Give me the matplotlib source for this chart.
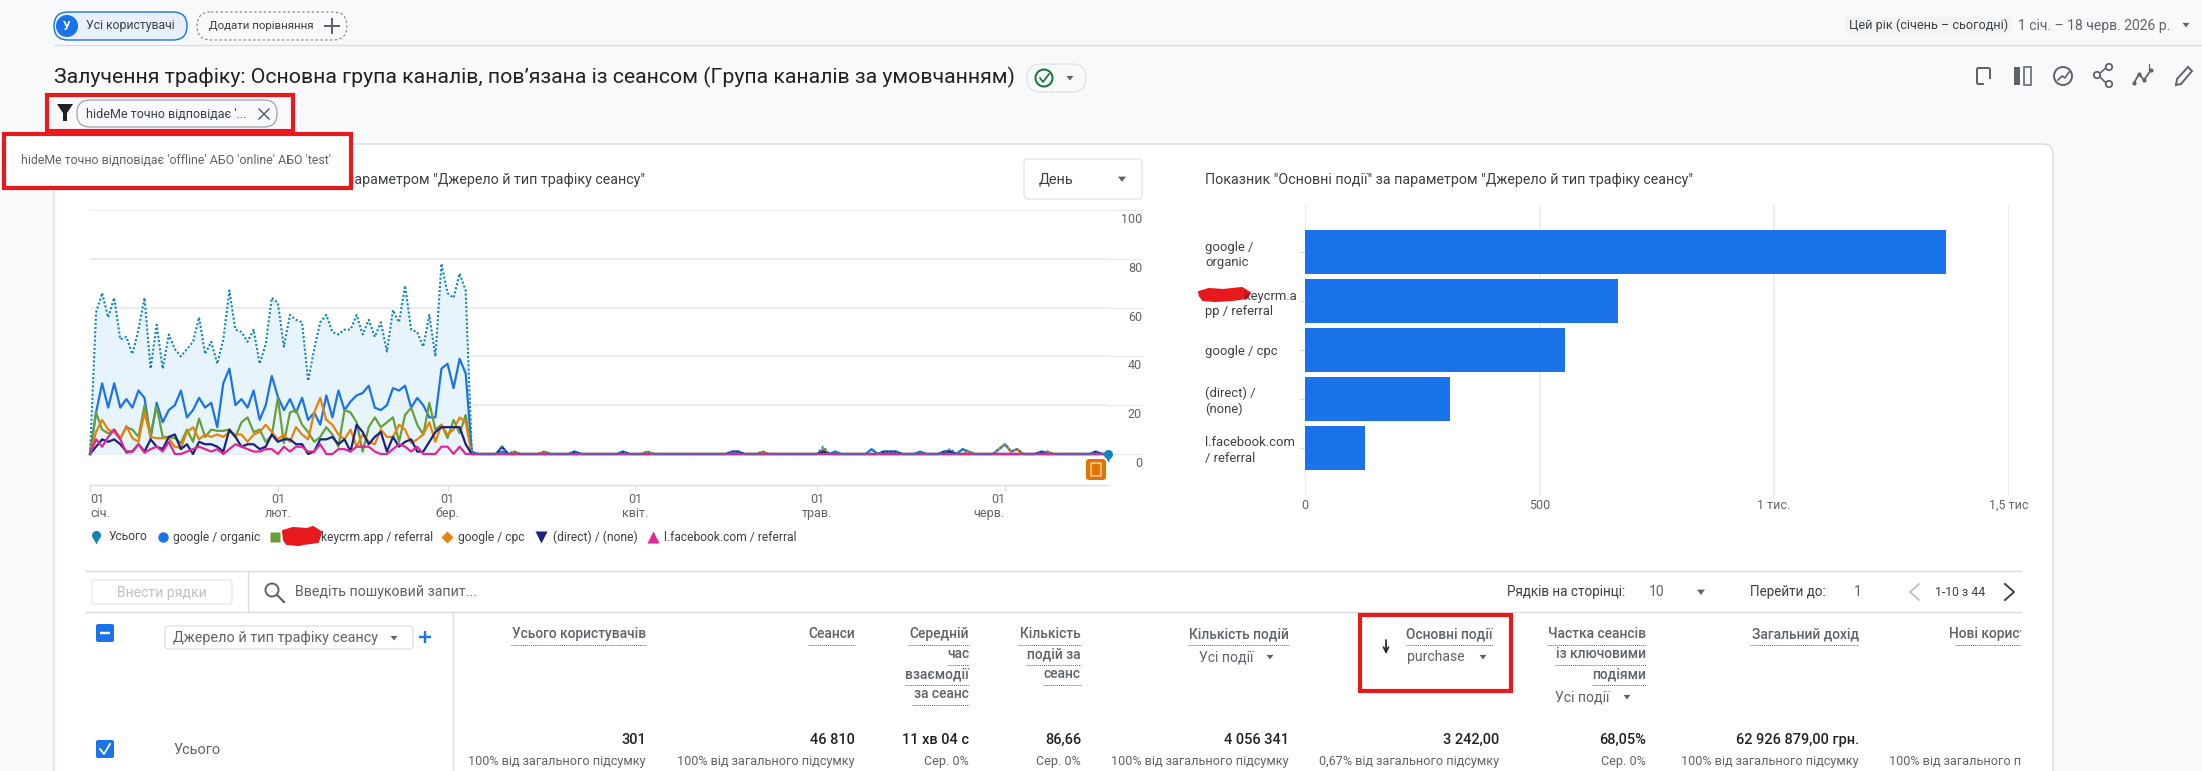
import matplotlib
matplotlib.use('Agg')
import matplotlib.pyplot as plt
from matplotlib.patches import FancyBboxPatch, Rectangle, Polygon, Circle
from matplotlib.transforms import ScaledTranslation

plt.rcParams['font.family'] = ['Roboto', 'DejaVu Sans']

# daily values, 1 Jan - 18 Jun 2026
total = [0, 58, 66, 56, 64, 47, 48, 41, 51, 64, 35, 53, 35, 49, 43, 40, 43, 46, 56, 41,
         46, 37, 47, 67, 51, 50, 46, 51, 37, 45, 64, 62, 44, 57, 55, 54, 30, 43, 54, 57,
         50, 49, 51, 51, 57, 49, 55, 48, 54, 42, 59, 54, 69, 51, 50, 44, 57, 40, 78, 66,
         64, 74, 67, 1,
         0, 0, 0, 0, 3, 0, 1, 0, 0, 0, 0, 1, 0, 0, 0, 0, 1, 0, 0, 0,
         0, 0, 0, 0, 1, 0, 0, 0, 1, 0, 0, 0, 0, 0, 0, 0, 0, 0, 0, 0,
         0, 0, 1, 1, 0, 0, 0, 1, 0, 0, 0, 0, 0, 0, 0, 0, 0, 3, 0, 1,
         0, 0, 0, 0, 0, 2, 0, 1, 1, 1, 0, 0, 0, 1, 0, 0, 0, 1, 2, 0,
         2, 1, 0, 0, 0, 0, 2, 4, 1, 2, 0, 0, 0, 1, 1, 0, 0, 0, 0, 0,
         0, 0, 1, 0, 0]
organic = [0, 17, 29, 19, 29, 19, 22.5, 19, 26, 23, 6.5, 21, 13, 18, 20, 26, 15, 18, 23, 19,
           21, 11, 29, 35, 20, 22.5, 19, 26, 14, 20, 32, 23.5, 18, 22.5, 17, 23, 14, 17, 12, 24,
           15, 26, 18, 21.5, 24, 25, 28, 19, 18, 20, 27, 26, 28, 19, 23, 20, 15, 15, 35, 37,
           27, 39, 33, 1,
           0, 0, 0, 0, 1, 0, 0, 0, 0, 0, 0, 0, 0, 0, 0, 0, 0, 0, 0, 0,
           0, 0, 0, 0, 0, 0, 0, 0, 0, 0, 0, 0, 0, 0, 0, 0, 0, 0, 0, 0,
           0, 0, 0, 0, 0, 0, 0, 0, 0, 0, 0, 0, 0, 0, 0, 0, 0, 2, 0, 1,
           0, 0, 0, 0, 0, 2, 0, 0, 0, 0, 0, 0, 0, 1, 0, 0, 0, 1, 1, 0,
           2, 1, 0, 0, 0, 0, 2, 4, 1, 2, 0, 0, 0, 0, 0, 0, 0, 0, 0, 0,
           0, 0, 0, 0, 0]
keycrm = [0, 17, 10, 8.5, 10, 6.5, 11, 10, 7, 20, 8, 19.5, 7, 7, 6.5, 4.5, 10, 5, 14.5, 7,
          10, 9.5, 9.5, 10, 7, 13, 15, 9, 10, 5, 7.5, 23, 4.5, 17, 18, 12, 9, 5, 7, 11,
          8, 3, 18, 17, 13, 1, 11, 15, 11, 13, 15, 5, 16, 19, 12, 8, 21, 10, 12, 6.5,
          14, 8.5, 16, 0,
          0, 0, 0, 0, 0, 0, 0, 0, 0, 0, 0, 0, 0, 0, 0, 0, 0, 0, 0, 0,
          0, 0, 0, 0, 0, 0, 0, 0, 0, 0, 0, 0, 0, 0, 0, 0, 0, 0, 0, 0,
          0, 0, 0, 0, 0, 0, 0, 0, 0, 0, 0, 0, 0, 0, 0, 0, 0, 0, 0, 0,
          0, 0, 0, 0, 0, 0, 0, 0, 0, 0, 0, 0, 0, 0, 0, 0, 0, 0, 0, 0,
          0, 0, 0, 0, 0, 0, 0, 0, 0, 0, 0, 0, 0, 0, 0, 0, 0, 0, 0, 0,
          0, 0, 0, 0, 0]
cpc = [0, 9, 14, 10, 9, 6, 11.5, 6.5, 5, 17, 7, 6.5, 6.5, 6.5, 3, 2.5, 9, 11, 6, 8,
       7, 8, 7, 9, 8, 8, 5, 8, 9, 12, 9, 6, 8, 5, 11, 8, 6, 17, 23, 14,
       12, 8, 6, 10, 3, 8, 5, 4, 10, 7, 7, 12, 10, 4.5, 6, 8, 13, 5, 12, 8,
       10, 15, 13, 0,
       0, 0, 0, 0, 0, 0, 1, 0, 0, 0, 0, 1, 0, 0, 0, 0, 0, 0, 0, 0,
       0, 0, 0, 0, 0, 0, 0, 0, 1, 0, 0, 0, 0, 0, 0, 0, 0, 0, 0, 0,
       0, 0, 0, 0, 0, 0, 0, 1, 0, 0, 0, 0, 0, 0, 0, 0, 0, 2, 0, 0,
       0, 0, 0, 0, 0, 0, 0, 0, 0, 0, 0, 0, 0, 0, 0, 0, 0, 0, 0, 0,
       0, 1, 0, 0, 0, 0, 2, 4, 1, 2, 0, 0, 0, 0, 1, 0, 0, 0, 0, 0,
       0, 0, 0, 0, 0]
direct = [0, 3, 6, 5, 6, 4, 1, 1, 4, 1, 6, 3, 2, 7, 8, 2, 4, 0, 5, 4,
          4, 3, 1, 10, 7, 3, 4, 4, 2, 3, 8, 5, 6, 6, 4, 4, 0, 1, 6, 6,
          7, 4, 6, 1, 12, 9, 4, 7, 9, 1, 7, 3, 5, 6, 1, 1, 5, 9, 11, 11,
          11, 11, 4, 0,
          0, 0, 0, 0, 3, 0, 0, 0, 0, 0, 0, 0, 0, 0, 0, 0, 1, 0, 0, 0,
          0, 0, 0, 0, 1, 0, 0, 0, 0, 0, 0, 0, 0, 0, 0, 0, 0, 0, 0, 0,
          0, 0, 1, 1, 0, 0, 0, 0, 0, 0, 0, 0, 0, 0, 0, 0, 0, 1, 0, 0,
          0, 0, 0, 0, 0, 0, 0, 1, 1, 1, 0, 0, 0, 0, 0, 0, 0, 1, 1, 0,
          0, 0, 0, 0, 0, 0, 0, 0, 0, 0, 0, 0, 0, 1, 0, 0, 0, 0, 0, 0,
          0, 0, 1, 0, 0]
facebook = [0, 6, 3, 7, 10, 6, 0.5, 1, 4, 0.5, 2, 3, 1, 5, 0, 0, 1, 2, 3, 2,
            1, 2, 0, 2, 4, 3, 2, 1, 1, 2, 2, 0, 3, 1, 3, 3, 1, 1, 4, 0,
            0, 2, 2, 1, 3, 3, 3, 1, 0, 0, 2, 4, 3, 1, 3, 0, 0, 0, 3, 3,
            0, 3, 0, 0,
            0, 0, 0, 0, 0, 0, 0, 0, 0, 0, 0, 0, 0, 0, 0, 0, 0, 0, 0, 0,
            0, 0, 0, 0, 0, 0, 0, 0, 0, 0, 0, 0, 0, 0, 0, 0, 0, 0, 0, 0,
            0, 0, 0, 0, 0, 0, 0, 0, 0, 0, 0, 0, 0, 0, 0, 0, 0, 0, 0, 0,
            0, 0, 0, 0, 0, 0, 0, 0, 0, 0, 0, 0, 0, 0, 0, 0, 0, 0, 0, 0,
            0, 0, 0, 0, 0, 0, 0, 0, 0, 0, 0, 0, 0, 0, 0, 0, 0, 0, 0, 0,
            0, 0, 0, 0, 0]

month_days = [0, 31, 59, 90, 120, 151]
month_labels = ['01\nсіч.', '01\nлют.', '01\nбер.', '01\nквіт.', '01\nтрав.', '01\nчерв.']
y_ticks = [0, 20, 40, 60, 80, 100]

bar_labels = ['google /\norganic', '            keycrm.a\npp / referral', 'google / cpc',
              '(direct) /\n(none)', 'l.facebook.com\n/ referral']
bar_values = [1367, 667, 555, 309, 128]
bar_ticks = [0, 500, 1000, 1500]
bar_tick_labels = ['0', '500', '1 тис.', '1,5 тис']

BLUE = '#1a73e8'
TEAL = '#1185b8'
GREEN = '#689f38'
ORANGE = '#e8830a'
NAVY = '#1a237e'
PINK = '#e52592'
RED = '#e8191c'
GRID = '#e8eaed'
LINE = '#dadce0'
TEXT = '#3c4043'
GRAY = '#5f6368'
W, H = 2202, 771

fig = plt.figure(figsize=(W / 100, H / 100), dpi=100, facecolor='#f8f9fa')

# whole-figure axes in pixel coordinates for the page around the charts
ui = fig.add_axes([0, 0, 1, 1], zorder=0)
ui.set_xlim(0, W)
ui.set_ylim(H, 0)
ui.axis('off')


def px_axes(x0, y0, x1, y1):
    return fig.add_axes([x0 / W, 1 - y1 / H, (x1 - x0) / W, (y1 - y0) / H], zorder=1, facecolor='none')


def txt(x, y, s, size=12, color=TEXT, ha='left', weight='normal', z=5):
    return ui.text(x, y, s, fontsize=size * 0.72, color=color, ha=ha, va='center', fontweight=weight, zorder=z)


def box(x0, y0, x1, y1, r=0, fc='white', ec=LINE, lw=1, ls='-', z=2):
    p = FancyBboxPatch((x0, y0), x1 - x0, y1 - y0, boxstyle=f'round,pad=0,rounding_size={r}',
                       fc=fc, ec=ec, lw=lw * 0.72, ls=ls, zorder=z)
    ui.add_patch(p)
    return p


def hline(x0, x1, y, color=LINE, lw=1.4, z=3):
    ui.plot([x0, x1], [y, y], color=color, lw=lw * 0.72, zorder=z, solid_capstyle='butt')


def vline(x, y0, y1, color=LINE, lw=1.4, z=3):
    ui.plot([x, x], [y0, y1], color=color, lw=lw * 0.72, zorder=z, solid_capstyle='butt')


def tri(x, y, s=4, color=GRAY):
    ui.add_patch(Polygon([(x - s, y - s * 0.6), (x + s, y - s * 0.6), (x, y + s * 0.7)], fc=color, ec='none', zorder=5))


def red_box(x0, y0, x1, y1, fc='none', z=6):
    ui.add_patch(Rectangle((x0, y0), x1 - x0, y1 - y0, fc=fc, ec=RED, lw=3.0, zorder=z))


def scribble(x0, y0, x1, y1):
    pts = [(x0, y0 + 4), (x0 + 10, y0 + 1), (x0 + 24, y0 + 2), (x1 - 8, y0), (x1, y0 + 5), (x1 - 3, y1 - 3),
           (x1 - 18, y1 - 1), (x0 + 16, y1), (x0 + 4, y1 - 1), (x0 + 1, y1 - 5)]
    ui.add_patch(Polygon(pts, fc=RED, ec=RED, lw=1.5, joinstyle='round', zorder=7))


# card and top rows
box(54, 144, 2053, 800, r=10, fc='white', ec=LINE, lw=1.4, z=1)
hline(54, W, 45)

box(54, 12, 187, 40, r=14, fc='#e8f0fe', ec=BLUE, lw=1.4)
ui.add_patch(Circle((67, 26), 11, fc=BLUE, ec='none', zorder=4))
txt(67, 26, 'У', size=12, color='white', ha='center', weight='bold')
txt(86, 26, 'Усі користувачі', size=12.3)
box(197, 12, 347, 40, r=14, fc='#f8f9fa', ec='#80868b', lw=1.2, ls=(0, (2, 2)))
txt(209, 26, 'Додати порівняння', size=11.5)
hline(324, 340, 26, color=GRAY, lw=2)
vline(332, 18, 34, color=GRAY, lw=2)

ui.add_patch(Rectangle((1845, 17), 167, 16, fc='#f1f3f4', ec='none', zorder=2))
txt(1849, 25, 'Цей рік (січень – сьогодні)', size=12.6)
txt(2018, 26, '1 січ. – 18 черв. 2026 р.', size=13.9, color=GRAY)
tri(2186, 25, s=3.5)

txt(54, 77, 'Залучення трафіку: Основна група каналів, пов’язана із сеансом (Група каналів за умовчанням)', size=21.3, color='#202124')
box(1027, 64, 1086, 92, r=14, fc='#f8f9fa', ec=LINE)
ui.add_patch(Circle((1044, 78), 8.5, fc='none', ec='#137333', lw=1.4, zorder=5))
ui.plot([1040, 1043, 1049], [78, 82, 74], color='#137333', lw=1.2, zorder=5)
tri(1070, 78, s=3.5)

# filter chip and the two annotation boxes
ui.add_patch(Polygon([(57, 104), (73, 104), (67, 113), (67, 121), (63, 121), (63, 113)], fc='#202124', ec='none', zorder=5))
box(77, 100, 277, 127, r=13, fc='#f8f9fa', ec='#9aa0a6', lw=1.2)
txt(86, 114, "hideMe точно відповідає '...", size=12.5)
ui.plot([259, 269], [109, 119], color=GRAY, lw=1.1, zorder=5)
ui.plot([259, 269], [119, 109], color=GRAY, lw=1.1, zorder=5)
red_box(47, 95, 293, 131)

txt(645, 180, 'Показник "Основні події" за параметром "Джерело й тип трафіку сеансу"', size=14.3, ha='right')
red_box(4, 134, 351, 188, fc='white')
txt(21, 160, "hideMe точно відповідає 'offline' АБО 'online' АБО 'test'", size=12.4, color=GRAY, z=7)

box(1024, 159, 1142, 199, r=4, fc='white', ec=LINE)
txt(1039, 179, 'День', size=14.5)
tri(1122, 179, s=4)
txt(1205, 180, 'Показник "Основні події" за параметром "Джерело й тип трафіку сеансу"', size=14.3)

# toolbar icons
box(1977, 68, 1990, 84, r=1.5, fc='none', ec=GRAY, lw=2)
ui.add_patch(Rectangle((1984, 79), 7, 6, fc='#f8f9fa', ec='none', zorder=4))
ui.add_patch(Rectangle((2014, 67), 6, 18, fc=GRAY, ec='none', zorder=3))
box(2024, 67, 2031, 85, r=0, fc='none', ec=GRAY, lw=1.6)
ui.add_patch(Circle((2063, 76), 9, fc='none', ec=GRAY, lw=1.4, zorder=4))
ui.plot([2058, 2062, 2065, 2069], [80, 76, 78, 72], color=GRAY, lw=1.2, zorder=5)
ui.plot([2108, 2098, 2108], [66, 75, 85], color=GRAY, lw=1.2, zorder=4)
for sx, sy in [(2109, 67), (2097, 75), (2109, 84)]:
    ui.add_patch(Circle((sx, sy), 3.2, fc='#f8f9fa', ec=GRAY, lw=1.3, zorder=5))
ui.plot([2134, 2139, 2144, 2151], [83, 74, 80, 70], color=GRAY, lw=1.3, marker='o', ms=2, zorder=5)
ui.plot([2149, 2149], [64, 70], color=GRAY, lw=0.9, zorder=5)
ui.add_patch(Polygon([(2176, 85), (2177, 79), (2188, 67), (2192, 71), (2181, 84)], fc='none', ec=GRAY, lw=1.4, zorder=5))

# legend row under the line chart
ui.plot(96, 535, 'o', color=TEAL, ms=6.5, mec='none', zorder=5)
ui.plot(96, 541, 'v', color=TEAL, ms=4, mec='none', zorder=5)
txt(109, 537, 'Усього', size=12)
ui.plot(163, 537, 'o', color=BLUE, ms=7.5, mec='none', zorder=5)
txt(173, 537, 'google / organic', size=12)
ui.plot(275, 537, 's', color=GREEN, ms=7.5, mec='none', zorder=5)
txt(321, 537, 'keycrm.app / referral', size=12)
scribble(283, 527, 321, 545)
ui.plot(447, 537, 'D', color=ORANGE, ms=6, mec='none', zorder=5)
txt(458, 537, 'google / cpc', size=12)
ui.plot(541, 537, 'v', color=NAVY, ms=8.5, mec='none', zorder=5)
txt(553, 537, '(direct) / (none)', size=12)
ui.plot(653, 537, '^', color=PINK, ms=8.5, mec='none', zorder=5)
txt(664, 537, 'l.facebook.com / referral', size=12)

# table toolbar
hline(85, 2021, 571)
hline(85, 2021, 612)
vline(248, 571, 612)
vline(453, 612, 771)
box(92, 580, 232, 604, r=3, fc='white', ec=GRID, lw=1.4)
txt(162, 593, 'Внести рядки', size=14, color='#bdc1c6', ha='center')
ui.add_patch(Circle((272, 590), 6.5, fc='none', ec=GRAY, lw=1.4, zorder=5))
ui.plot([277, 284], [595, 602], color=GRAY, lw=1.6, zorder=5)
txt(295, 592, 'Введіть пошуковий запит...', size=14.1, color=GRAY)
txt(1507, 592, 'Рядків на сторінці:', size=13.5)
txt(1649, 592, '10', size=14, color=GRAY)
tri(1701, 592, s=4)
txt(1750, 592, 'Перейти до:', size=13.5)
txt(1858, 592, '1', size=14, color=GRAY, ha='center')
ui.plot([1919, 1910, 1919], [584, 592, 600], color='#bdc1c6', lw=1.3, zorder=5)
txt(1935, 592, '1-10 з 44', size=12.3)
ui.plot([2005, 2014, 2005], [584, 592, 600], color=TEXT, lw=1.4, zorder=5)

# table header
box(96, 624, 114, 642, r=2, fc=BLUE, ec='none')
hline(100, 110, 633, color='white', lw=2.4, z=5)
box(165, 626, 413, 649, r=3, fc='white', ec=LINE, lw=1.2)
txt(173, 638, 'Джерело й тип трафіку сеансу', size=14.4, color=GRAY)
tri(394, 638, s=3.5)
hline(419, 431, 637, color=BLUE, lw=2.4)
vline(425, 631, 643, color=BLUE, lw=2.4)


def header(right, lines, lefts):
    for i, (line, left) in enumerate(zip(lines, lefts)):
        y = 634 + i * 20
        txt(right, y, line, size=13.8, ha='right', color=GRAY, weight='medium')
        ui.plot([left, right], [y + 10.5, y + 10.5], color=GRAY, lw=0.7, ls=(0, (1, 1)), zorder=5)


header(646, ['Усього користувачів'], [511])
header(855, ['Сеанси'], [808])
header(969, ['Середній', 'час', 'взаємодії', 'за сеанс'], [908, 947, 905, 912])
header(1081, ['Кількість', 'подій за', 'сеанс'], [1018, 1026, 1043])
header(1289, ['Кількість подій'], [1188])
header(1493, ['Основні події'], [1406])
header(1646, ['Частка сеансів', 'із ключовими', 'подіями'], [1547, 1555, 1592])
header(1859, ['Загальний дохід'], [1750])
header(2060, ['Нові користувачі'], [1955])

txt(1199, 657, 'Усі події', size=14, color=GRAY)
tri(1270, 657, s=3.5)
txt(1407, 657, 'purchase', size=14, color=GRAY)
tri(1483, 657, s=3.5)
txt(1555, 697, 'Усі події', size=14, color=GRAY)
tri(1627, 697, s=3.5)
ui.annotate('', xy=(1386, 654), xytext=(1386, 640), zorder=5,
            arrowprops=dict(arrowstyle='->', color='#202124', lw=1.2, mutation_scale=9, shrinkA=0, shrinkB=0))
red_box(1360, 615, 1511, 691)

# totals row
box(96, 740, 114, 758, r=2, fc=BLUE, ec='none')
ui.plot([100, 104, 110], [749, 754, 744], color='white', lw=1.3, zorder=5)
txt(173, 750, 'Усього', size=14.5, color=GRAY)
row = [(646, '301', '100% від загального підсумку'),
       (855, '46 810', '100% від загального підсумку'),
       (969, '11 хв 04 с', 'Сер. 0%'),
       (1081, '86,66', 'Сер. 0%'),
       (1289, '4 056 341', '100% від загального підсумку'),
       (1499, '3 242,00', '0,67% від загального підсумку'),
       (1646, '68,05%', 'Сер. 0%'),
       (1859, '62 926 879,00 грн.', '100% від загального підсумку')]
for rx, value, note in row:
    txt(rx, 740, value, size=14.5, ha='right', color='#202124', weight='medium')
    txt(rx, 761, note, size=12.6, ha='right', color=GRAY)
txt(2067, 761, '100% від загального підсумку', size=12.6, ha='right', color=GRAY)

# clip the last table column at the table edge
clip = Rectangle((0, 0), 2021, H, transform=ui.transData)
for t in ui.texts:
    if t.get_position()[0] > 2021 and t.get_position()[1] > 612:
        t.set_clip_path(clip)
        t.set_clip_on(True)
for ln in ui.lines:
    if ln.get_xdata()[-1] == 2060:
        ln.set_clip_path(clip)

# line chart
ax = px_axes(90, 210, 1108, 485)
days = list(range(len(total)))
ax.set_xlim(0, 168)
ax.set_ylim(-12.7, 100)
ax.fill_between(days, total, 0, color='#e3f3fc', alpha=0.85, lw=0, zorder=2)
for values, color in [(organic, BLUE), (keycrm, GREEN), (cpc, ORANGE), (direct, NAVY), (facebook, PINK)]:
    ax.plot(days, values, color=color, lw=1.6, zorder=3, solid_joinstyle='round', clip_on=False)
ax.plot(days, total, color=TEAL, lw=1.5, ls=(0, (1, 1)), zorder=4, clip_on=False)
ax.plot(days[-1], total[-1], 'o', color=TEAL, ms=6.5, mec='none', zorder=6, clip_on=False)
ax.plot(days[-1], total[-1] - 2, 'v', color=TEAL, ms=4, mec='none', zorder=6, clip_on=False)
for s in ['top', 'left', 'right']:
    ax.spines[s].set_visible(False)
ax.spines['bottom'].set_color(LINE)
ax.spines['bottom'].set_linewidth(1)
ax.yaxis.tick_right()
ax.set_yticks(y_ticks)
ax.set_yticklabels([str(v) for v in y_ticks])
ax.yaxis.grid(True, color=GRID, lw=1.2, zorder=1)
ax.set_axisbelow(True)
ax.tick_params(axis='y', length=24.5, width=0.9, color=GRID, pad=0, labelsize=9, labelcolor=GRAY)
down = ScaledTranslation(0, -8 / 100, fig.dpi_scale_trans)
for lab in ax.get_yticklabels():
    lab.set_horizontalalignment('right')
    lab.set_transform(lab.get_transform() + down)
ax.set_xticks(month_days)
ax.set_xticklabels(month_labels, linespacing=1.05)
ax.tick_params(axis='x', length=4, width=0.9, color=LINE, pad=2, labelsize=9, labelcolor=GRAY)
xlabs = ax.get_xticklabels()
xlabs[0].set_horizontalalignment('left')
xlabs[-1].set_horizontalalignment('right')
xlabs[-1].set_multialignment('right')

# annotation badge at the end of the line chart
box(1086, 459, 1106, 480, r=3, fc='#e37400', ec='none', z=6)
box(1091, 463, 1101, 476, r=0.5, fc='none', ec='white', lw=1, z=7)

# bar chart
bx = px_axes(1305, 205, 2008.5, 496)
bar_pos = list(range(len(bar_values)))
bx.barh(bar_pos, bar_values, height=0.898, color=BLUE, zorder=3)
bx.set_xlim(0, 1500)
bx.set_ylim(4.98, -0.96)
for s in ['top', 'left', 'right', 'bottom']:
    bx.spines[s].set_visible(False)
bx.set_xticks(bar_ticks)
bx.set_xticklabels(bar_tick_labels)
bx.xaxis.grid(True, color=GRID, lw=1.2, zorder=1)
bx.set_axisbelow(True)
bx.tick_params(axis='x', length=0, pad=2, labelsize=9, labelcolor=GRAY)
bx.set_yticks(bar_pos)
bx.set_yticklabels(bar_labels, linespacing=1.22)
bx.tick_params(axis='y', length=4.3, width=0.9, color=LINE, pad=67.7, labelsize=9.4, labelcolor=TEXT)
for lab in bx.get_yticklabels():
    lab.set_horizontalalignment('left')
    lab.set_multialignment('left')
scribble(1199, 288, 1250, 301)

fig.savefig('out.png', dpi=100, facecolor=fig.get_facecolor())
